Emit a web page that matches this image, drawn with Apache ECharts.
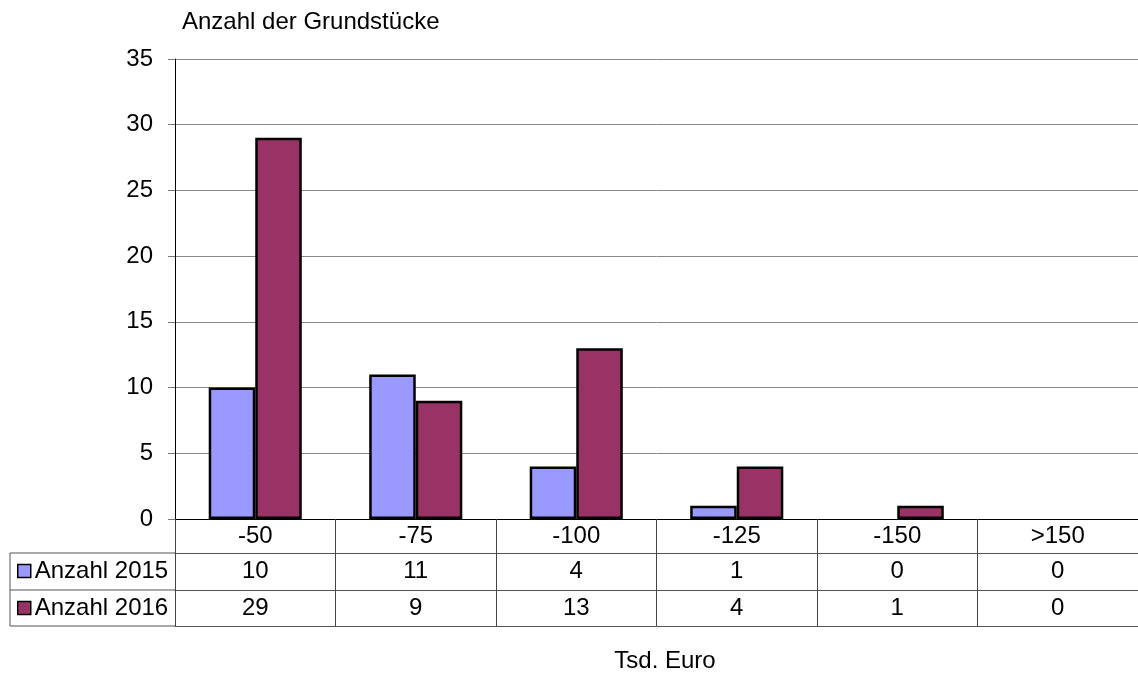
<!DOCTYPE html>
<html>
<head>
<meta charset="utf-8">
<script src="https://cdn.jsdelivr.net/npm/echarts@6/dist/echarts.min.js"></script>
<style>html,body{margin:0;padding:0;background:#fff}#c{width:1138px;height:675px}</style>
</head>
<body>
<div id="c"></div>
<script>
const categories = ['-50', '-75', '-100', '-125', '-150', '>150'];
const anzahl2015 = [10, 11, 4, 1, 0, 0];
const anzahl2016 = [29, 9, 13, 4, 1, 0];
const seriesNames = ['Anzahl 2015', 'Anzahl 2016'];
const yTitle = 'Anzahl der Grundstücke';
const xTitle = 'Tsd. Euro';

const FONT = "'Liberation Sans', Arial, sans-serif";
const FS = 24;
const chart = echarts.init(document.getElementById('c'));

const GL = 175, GT = 59, GR = -7, GH = 460;
const rowH = [34, 71, 107];

function tableAxis(offset, vals) {
  return {
    type: 'category', data: categories, position: 'bottom', offset: offset,
    gridIndex: 0,
    axisLine: { show: true, lineStyle: { color: '#555', width: 1 } },
    axisTick: { show: false },
    axisLabel: vals ? {
      show: true, margin: 6, color: '#000', fontSize: FS, fontFamily: FONT,
      formatter: (v, i) => String(vals[i])
    } : { show: false },
    splitLine: { show: false }
  };
}

// zero values are listed in the table but draw no bar
const barData = arr => arr.map(v => (v === 0 ? '-' : v));

const option = {
  animation: false,
  backgroundColor: '#fff',
  title: [
    { text: yTitle, left: 182, top: 10, padding: 0,
      textStyle: { fontSize: FS, fontWeight: 'normal', color: '#000', fontFamily: FONT } },
    { text: xTitle, left: 665, top: 649, padding: 0, textAlign: 'center',
      textStyle: { fontSize: FS, fontWeight: 'normal', color: '#000', fontFamily: FONT } }
  ],
  legend: {
    orient: 'vertical', left: 17, top: 559, padding: 0,
    itemWidth: 13, itemHeight: 13, itemGap: 13,
    icon: 'rect',
    data: seriesNames,
    textStyle: { fontSize: FS, color: '#000', fontFamily: FONT, padding: [0, 0, 0, -1] },
    itemStyle: { borderColor: '#000', borderWidth: 1.5 }
  },
  grid: { left: GL, top: GT, right: GR, height: GH, containLabel: false },
  xAxis: [
    {
      type: 'category', data: categories, position: 'bottom',
      axisLine: { show: true, lineStyle: { color: '#000', width: 1 } },
      axisTick: { show: true, inside: false, length: 107, alignWithLabel: false, lineStyle: { color: '#444', width: 1 } },
      axisLabel: { margin: 5, color: '#000', fontSize: FS, fontFamily: FONT },
      splitLine: { show: false }
    },
    tableAxis(rowH[0], anzahl2015),
    tableAxis(rowH[1], anzahl2016),
    tableAxis(rowH[2], null)
  ],
  yAxis: {
    type: 'value', min: 0, max: 35, interval: 5,
    axisLine: { show: true, lineStyle: { color: '#000', width: 1 } },
    axisTick: { show: true, inside: false, length: 7, lineStyle: { color: '#777' } },
    axisLabel: { margin: 22, color: '#000', fontSize: FS, fontFamily: FONT },
    splitLine: { show: true, lineStyle: { color: '#888', width: 1 } }
  },
  series: [
    { name: seriesNames[0], type: 'bar', data: barData(anzahl2015), xAxisIndex: 0,
      barGap: '0%', barCategoryGap: '42%',
      itemStyle: { color: '#9999FF', borderColor: '#000', borderWidth: 2.5 } },
    { name: seriesNames[1], type: 'bar', data: barData(anzahl2016), xAxisIndex: 0,
      barGap: '0%', barCategoryGap: '42%',
      itemStyle: { color: '#993366', borderColor: '#000', borderWidth: 2.5 } }
  ],
  graphic: [
    { type: 'line', shape: { x1: 10, y1: GT + GH + rowH[0], x2: GL, y2: GT + GH + rowH[0] }, style: { stroke: '#555', lineWidth: 1 } },
    { type: 'line', shape: { x1: 10, y1: GT + GH + rowH[1], x2: GL, y2: GT + GH + rowH[1] }, style: { stroke: '#555', lineWidth: 1 } },
    { type: 'line', shape: { x1: 10, y1: GT + GH + rowH[2], x2: GL, y2: GT + GH + rowH[2] }, style: { stroke: '#555', lineWidth: 1 } },
    { type: 'line', shape: { x1: 10, y1: GT + GH + rowH[0], x2: 10, y2: GT + GH + rowH[2] }, style: { stroke: '#555', lineWidth: 1 } }
  ]
};
chart.setOption(option);
</script>
</body>
</html>
